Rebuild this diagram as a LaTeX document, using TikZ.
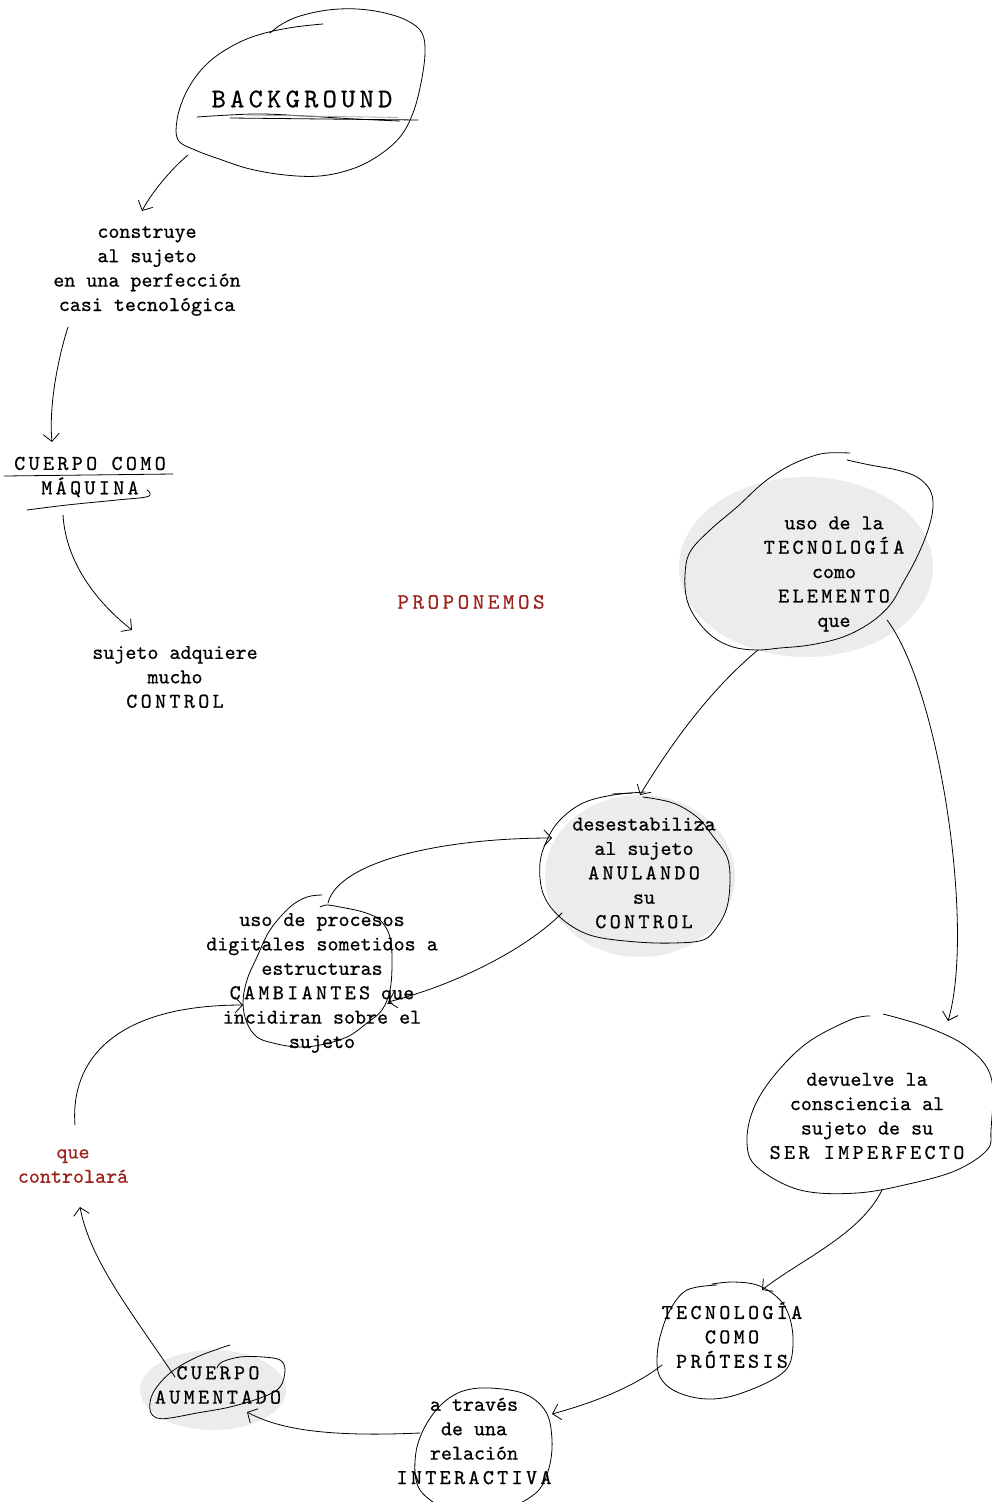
\documentclass[tikz,border=0pt]{standalone}
\usepackage{fontspec}
\usetikzlibrary{arrows.meta}
% typewriter face for all labels; a tracked variant for the capitals
\newfontfamily\tw{lmmono10-regular.otf}[FakeBold=0.6]
\newfontfamily\twcaps{lmmono10-regular.otf}[LetterSpace=16,FakeBold=0.6]
\definecolor{inkred}{RGB}{158,34,28}
\definecolor{wash}{RGB}{236,236,236}
\begin{document}
\begin{tikzpicture}[x=1pt,y=-1pt,
  lbl/.style={font={\tw\fontsize{21}{24.4}\selectfont}, align=center, inner sep=0pt},
  ink/.style={line width=0.8pt, line cap=round, line join=round},
  conn/.style={ink, -{Straight Barb[length=7.5pt,width=16pt]}},
  blob/.style={ink},
]
\useasboundingbox (0,0) rectangle (992,1502);

% soft grey washes behind some of the bubbles
\fill[wash] (806,567) ellipse [x radius=127pt, y radius=90pt];
\fill[wash] (640,876) ellipse [x radius=95pt, y radius=81pt];
\fill[wash] (213,1390) ellipse [x radius=73pt, y radius=40pt];

% ---------- labels ----------
\node[lbl] (bg) at (302,99) {\fontsize{27}{30}\selectfont\twcaps BACKGROUND};
\node[lbl] (cons) at (147,271) {construye\\al sujeto\\en una perfección\\casi tecnológica};
\node[lbl] (cm) at (90,477) {{\twcaps CUERPO COMO}\\{\twcaps MÁQUINA}};
\node[lbl] (suj) at (175,677) {sujeto adquiere\\mucho\\{\twcaps CONTROL}};
\node[lbl, text=inkred] (prop) at (471,602) {\fontsize{22}{24}\selectfont\twcaps PROPONEMOS};
\node[lbl] (tec) at (834,574) {uso de la\\{\twcaps TECNOLOGÍA}\\como\\{\twcaps ELEMENTO}\\que};
\node[lbl] (des) at (644,873) {desestabiliza\\al sujeto\\{\twcaps ANULANDO}\\su\\{\twcaps CONTROL}};
\node[lbl] (proc) at (322,983) {uso de procesos\\digitales sometidos a\\estructuras\\{\twcaps CAMBIANTES} que\\incidiran sobre el\\sujeto};
\node[lbl, text=inkred] (ctrl) at (73,1166) {que\\controlará};
\node[lbl] (dev) at (867,1116) {devuelve la\\consciencia al\\sujeto de su\\{\twcaps SER IMPERFECTO}};
\node[lbl] (pro) at (732,1335) {{\twcaps TECNOLOGÍA}\\{\twcaps COMO}\\{\twcaps PRÓTESIS}};
\node[lbl] (inter) at (474,1441) {a través\\de una\\relación\\{\twcaps INTERACTIVA}};
\node[lbl] (aum) at (218,1385) {{\twcaps CUERPO}\\{\twcaps AUMENTADO}};

% ---------- hand-drawn bubbles ----------
\draw[blob] plot[smooth, tension=0.6] coordinates {(323,24) (295,27) (265,33) (240,42) (215,57) (197,75) (184,97) (177,120) (178,140) (195,150) (222,160) (250,169) (285,175) (320,176) (352,169) (378,156) (400,137) (413,113) (421,83) (425,53) (422,33) (408,21) (385,13) (357,9) (328,10) (300,16) (282,24) (270,33)};
% double underline of the title
\draw[ink] plot[smooth, tension=0.6] coordinates {(197,117) (255,114) (305,116) (355,119) (400,121)};
\draw[ink] (230,118) -- (418,120);
\draw[ink, gray!70] (245,115) -- (398,117.5);

% underlines of CUERPO COMO MÁQUINA
\draw[ink] (4,476) -- (173,474);
\draw[ink] plot[smooth, tension=0.6] coordinates {(27,510) (67,505) (117,500) (146,497) (150,493) (147,490)};

\draw[blob] plot[smooth, tension=0.6] coordinates {(850,453) (827,453) (810,457) (787,467) (763,483) (737,507) (710,530) (690,552) (685,575) (687,600) (697,620) (713,637) (733,647) (757,650) (780,648) (810,645) (843,637) (870,623) (890,605) (903,583) (917,557) (928,530) (933,507) (930,490) (917,477) (897,470) (870,465) (847,460)};

\draw[blob] plot[smooth, tension=0.6] coordinates {(643,797) (673,803) (697,817) (712,835) (727,857) (730,880) (727,907) (717,927) (703,940) (673,943) (637,942) (597,937) (573,927) (553,910) (542,890) (540,863) (547,840) (560,820) (583,803) (613,795) (645,792)};
\draw[ink] (612,794) -- (632,793);

\draw[blob] plot[smooth, tension=0.6] coordinates {(322,895) (307,897) (290,907) (270,930) (257,957) (247,980) (243,1003) (247,1023) (257,1037) (273,1043) (297,1047) (320,1045) (347,1037) (367,1023) (382,1010) (390,990) (392,963) (390,937) (380,920) (363,912) (340,907) (327,905) (320,907)};

\draw[blob] plot[smooth, tension=0.6] coordinates {(870,1016) (850,1020) (807,1043) (773,1077) (753,1110) (747,1143) (757,1167) (800,1190) (857,1193) (913,1183) (957,1170) (987,1150) (991,1130) (991,1077) (967,1047) (927,1027) (883,1014)};

\draw[blob] plot[smooth, tension=0.6] coordinates {(717,1285) (687,1290) (670,1310) (660,1337) (657,1360) (660,1377) (673,1390) (697,1398) (723,1398) (750,1390) (777,1377) (790,1363) (793,1337) (788,1313) (777,1297) (757,1285) (733,1282) (712,1284)};

\draw[blob] plot[smooth, tension=0.6] coordinates {(515,1506) (538,1491) (549,1468) (552,1440) (546,1412) (525,1394) (490,1388) (463,1391) (443,1403) (427,1423) (417,1447) (415,1473) (420,1490) (433,1502) (445,1508)};

\draw[blob] plot[smooth, tension=0.6] coordinates {(230,1345) (197,1357) (170,1373) (153,1393) (150,1410) (157,1418) (170,1418) (197,1413) (230,1407) (263,1397) (280,1387) (285,1370) (280,1360) (263,1357) (240,1357) (222,1362) (217,1368)};

% ---------- connector end points on the bubbles ----------
\coordinate (bg-out) at (188,155);
\coordinate (cons-in) at (142,211);
\coordinate (cons-out) at (68,327);
\coordinate (cm-in) at (52,442);
\coordinate (cm-out) at (63,515);
\coordinate (suj-in) at (132,630);
\coordinate (tec-sw) at (758,650);
\coordinate (tec-se) at (887,620);
\coordinate (des-n) at (640,795);
\coordinate (des-w) at (552,838);
\coordinate (des-sw) at (562,913);
\coordinate (proc-n) at (328,903);
\coordinate (proc-e) at (388,1002);
\coordinate (proc-w) at (243,1005);
\coordinate (ctrl-n) at (75,1125);
\coordinate (ctrl-s) at (80,1207);
\coordinate (dev-ne) at (948,1021);
\coordinate (dev-s) at (882,1190);
\coordinate (pro-n) at (762,1290);
\coordinate (pro-w) at (662,1365);
\coordinate (inter-e) at (552,1414);
\coordinate (inter-w) at (420,1433);
\coordinate (aum-e) at (247,1412);
\coordinate (aum-n) at (175,1377);

% ---------- connectors ----------
\draw[conn] (bg-out) .. controls (170,170) and (150,195) .. (cons-in);
\draw[conn] (cons-out) .. controls (56,365) and (49,410) .. (cm-in);
\draw[conn] (cm-out) .. controls (66,565) and (100,605) .. (suj-in);
\draw[conn] (tec-sw) .. controls (712,688) and (672,742) .. (des-n);
\draw[conn] (tec-se) .. controls (940,690) and (975,930) .. (dev-ne);
\draw[conn] (proc-n) .. controls (338,862) and (440,838) .. (des-w);
\draw[conn] (des-sw) .. controls (525,950) and (455,985) .. (proc-e);
\draw[conn] (ctrl-n) .. controls (70,1060) and (115,1005) .. (proc-w);
\draw[conn] (dev-s) .. controls (860,1235) and (800,1260) .. (pro-n);
\draw[conn] (pro-w) .. controls (630,1390) and (585,1405) .. (inter-e);
\draw[conn] (inter-w) .. controls (330,1437) and (280,1430) .. (aum-e);
\draw[conn] (aum-n) .. controls (130,1310) and (90,1260) .. (ctrl-s);
\end{tikzpicture}
\end{document}
